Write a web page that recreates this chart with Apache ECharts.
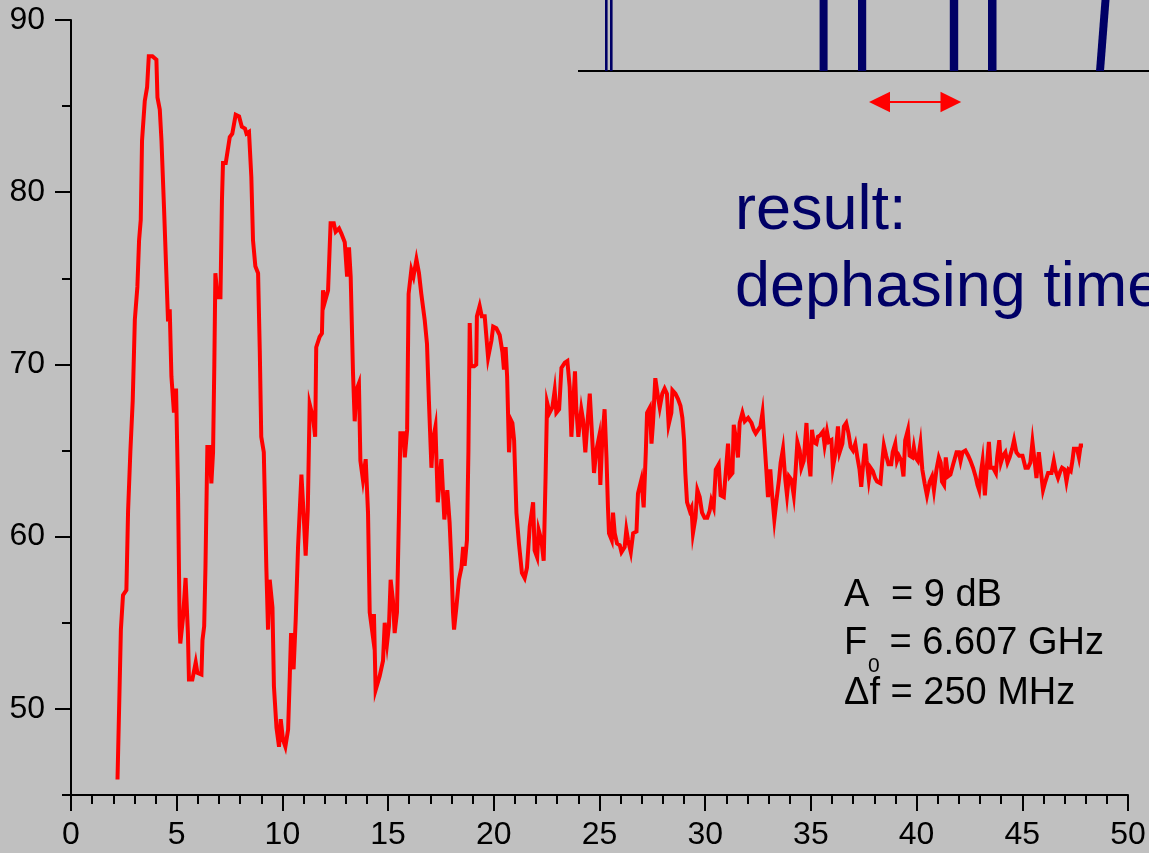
<!DOCTYPE html>
<html>
<head>
<meta charset="utf-8">
<script src="https://cdn.jsdelivr.net/npm/echarts@6/dist/echarts.min.js"></script>
<style>
html,body{margin:0;padding:0;background:#c0c0c0;}
#chart{width:1149px;height:853px;}
</style>
</head>
<body>
<div id="chart"></div>
<script>
// ---- data ----
const xs = [2.20,2.36,2.46,2.62,2.70,2.81,2.92,3.02,3.14,3.22,3.30,3.36,3.49,3.60,3.68,3.85,4.04,4.09,4.20,4.28,4.40,4.51,4.59,4.67,4.75,4.87,4.97,5.06,5.14,5.17,5.30,5.42,5.53,5.58,5.74,5.90,5.98,6.17,6.22,6.30,6.36,6.45,6.55,6.64,6.72,6.78,6.83,6.89,6.93,7.07,7.14,7.19,7.32,7.51,7.63,7.79,7.95,8.08,8.23,8.30,8.42,8.53,8.61,8.72,8.85,8.93,9.00,9.12,9.24,9.32,9.40,9.53,9.60,9.72,9.84,9.92,10.03,10.14,10.27,10.35,10.41,10.53,10.63,10.74,10.90,11.00,11.10,11.20,11.29,11.45,11.55,11.60,11.76,11.87,11.92,12.00,12.16,12.28,12.43,12.52,12.68,12.79,12.95,13.06,13.15,13.23,13.34,13.42,13.50,13.62,13.69,13.81,13.94,14.05,14.13,14.26,14.33,14.41,14.60,14.76,14.84,14.95,15.04,15.12,15.23,15.31,15.42,15.52,15.58,15.72,15.79,15.90,15.97,16.10,16.20,16.34,16.46,16.57,16.73,16.84,16.93,17.05,17.12,17.24,17.35,17.52,17.66,17.80,17.91,17.99,18.07,18.12,18.23,18.35,18.47,18.55,18.62,18.73,18.80,18.86,18.92,19.07,19.17,19.20,19.33,19.43,19.57,19.73,19.89,19.97,20.12,20.28,20.41,20.48,20.56,20.63,20.72,20.80,20.88,20.96,21.07,21.19,21.33,21.46,21.57,21.70,21.86,21.93,22.05,22.12,22.25,22.36,22.45,22.52,22.64,22.77,22.88,22.96,23.09,23.20,23.36,23.48,23.59,23.67,23.76,23.84,23.90,24.00,24.14,24.22,24.33,24.43,24.54,24.66,24.74,24.85,24.98,25.04,25.13,25.24,25.33,25.40,25.45,25.58,25.64,25.72,25.83,25.96,26.04,26.19,26.27,26.35,26.48,26.59,26.75,26.82,26.98,27.09,27.19,27.25,27.38,27.46,27.53,27.64,27.77,27.85,27.97,28.08,28.19,28.27,28.40,28.45,28.59,28.71,28.83,28.92,29.00,29.06,29.14,29.27,29.35,29.42,29.54,29.63,29.74,29.85,29.97,30.10,30.21,30.29,30.40,30.50,30.64,30.73,30.88,30.97,31.08,31.16,31.29,31.35,31.44,31.55,31.63,31.76,31.87,32.03,32.19,32.30,32.39,32.50,32.61,32.71,32.82,32.90,32.97,33.08,33.16,33.27,33.37,33.49,33.57,33.68,33.79,33.87,33.96,34.08,34.19,34.27,34.36,34.47,34.55,34.66,34.79,34.86,34.98,35.05,35.13,35.26,35.33,35.45,35.57,35.65,35.76,35.85,35.97,36.04,36.17,36.28,36.36,36.49,36.56,36.67,36.78,36.88,36.99,37.10,37.20,37.30,37.38,37.45,37.57,37.64,37.74,37.82,37.93,38.04,38.13,38.29,38.37,38.45,38.56,38.67,38.80,38.87,38.99,39.07,39.16,39.28,39.38,39.46,39.59,39.67,39.80,39.87,39.95,40.06,40.18,40.27,40.38,40.49,40.62,40.73,40.82,40.94,41.05,41.14,41.20,41.30,41.38,41.49,41.60,41.73,41.81,41.89,42.00,42.08,42.17,42.31,42.44,42.55,42.67,42.79,42.88,42.96,43.04,43.12,43.23,43.31,43.42,43.50,43.62,43.75,43.81,43.91,43.99,44.09,44.20,44.30,44.40,44.52,44.61,44.72,44.85,45.01,45.15,45.27,45.38,45.48,45.59,45.67,45.78,45.87,45.98,46.09,46.22,46.38,46.49,46.58,46.69,46.80,46.88,47.00,47.09,47.19,47.29,47.37,47.44,47.59,47.68,47.76,47.87];
const ys = [45.9,54.6,56.6,56.9,61.5,65.0,67.9,72.6,74.5,77.2,78.4,83.0,85.3,86.1,87.9,87.9,87.7,85.5,84.8,83.0,79.1,75.3,72.5,73.2,69.3,67.2,68.6,62.9,54.8,53.8,55.3,57.6,54.4,51.7,51.7,52.7,52.1,52.0,54.0,54.8,58.2,65.2,65.2,63.1,64.9,70.0,75.3,75.3,73.9,73.9,79.5,81.7,81.7,83.2,83.4,84.5,84.4,83.8,83.7,83.4,83.5,80.9,77.2,75.7,75.3,70.8,65.8,64.9,58.2,54.6,57.5,55.9,51.3,48.9,47.8,49.4,48.2,47.8,48.8,51.9,54.4,52.3,55.2,59.4,63.6,61.4,58.9,61.5,67.7,66.9,65.8,71.0,71.6,71.8,74.3,73.6,74.3,78.2,78.2,77.7,77.9,77.6,77.1,75.1,76.8,75.1,69.5,66.7,68.5,68.9,64.4,63.3,64.5,61.4,55.6,54.4,55.5,51.1,51.9,52.8,55.0,53.8,54.8,57.5,56.3,54.4,55.6,61.7,66.0,66.0,64.6,66.2,74.1,75.5,75.1,76.1,75.3,74.1,72.6,71.2,67.9,64.0,65.6,66.4,62.0,64.5,61.0,62.7,60.8,58.6,55.6,54.6,55.9,57.5,58.2,59.4,58.3,59.8,65.0,72.4,69.9,69.9,70.0,72.8,73.4,72.8,72.8,70.4,71.4,72.2,72.1,71.7,70.7,69.7,71.0,69.3,64.9,66.8,66.6,65.6,61.4,59.6,57.9,57.6,58.2,60.6,62.0,59.2,58.8,60.4,59.8,58.6,63.5,67.8,67.2,67.5,68.5,67.2,67.4,69.8,70.1,70.2,68.7,65.8,65.8,69.6,67.5,65.8,67.4,66.8,64.9,66.6,68.3,65.6,63.7,65.0,65.8,63.0,65.6,67.4,64.6,61.7,60.2,59.8,61.4,60.2,59.6,59.5,59.1,59.4,60.4,59.8,59.1,60.2,60.3,62.5,63.3,61.7,64.9,67.2,67.5,65.4,66.6,69.2,68.1,67.5,68.3,68.6,68.3,66.5,67.2,68.5,68.3,68.0,67.6,66.9,65.6,63.7,62.0,61.5,61.7,60.2,61.1,62.7,62.3,61.4,61.1,61.1,61.5,62.1,61.7,63.9,64.2,62.4,62.3,63.7,65.4,63.5,63.7,66.5,65.8,64.6,66.6,67.2,66.7,66.9,66.6,66.2,66.0,66.2,66.4,67.2,65.2,63.7,62.3,63.9,62.5,61.0,62.1,63.3,64.3,65.1,63.3,62.4,63.5,63.3,62.4,63.7,65.5,65.0,64.0,64.4,66.6,64.9,63.5,66.2,65.5,65.4,65.8,65.9,66.1,65.3,66.1,65.5,65.6,64.0,64.9,66.4,64.9,65.4,66.4,66.6,66.0,65.2,65.0,65.4,64.6,63.9,62.9,63.9,65.4,64.4,63.3,64.0,63.8,63.4,63.2,63.1,64.3,65.3,64.7,64.2,64.2,64.9,65.4,64.4,64.7,64.4,63.5,65.6,66.2,64.7,64.6,65.2,64.6,64.4,65.4,63.9,63.1,62.4,63.2,63.5,62.7,63.9,64.6,64.3,63.2,63.0,64.6,63.5,63.6,64.2,64.3,64.9,64.9,64.4,64.9,65.0,64.7,64.4,64.0,63.5,63.0,62.7,63.7,64.4,62.4,63.9,65.5,64.0,64.0,63.7,64.6,65.6,64.3,64.7,64.9,64.3,64.6,65.1,65.6,64.9,64.7,64.7,64.0,64.0,64.3,65.5,64.3,63.4,64.9,63.9,62.7,63.2,63.7,63.7,64.4,63.8,63.4,63.8,64.0,63.9,63.2,63.9,63.8,64.4,65.1,65.1,64.6,65.3,65.3];
const yMajorTicks = [50, 60, 70, 80, 90];
const yMinorTicks = [45, 55, 65, 75, 85];
const xRange = [0, 50];
const yRange = [45, 90];
const titleLines = ['result:', 'dephasing time'];
const paramA = ['A', '= 9 dB'];
const paramF = ['F', '0', ' = 6.607 GHz'];
const paramD = 'Δf = 250 MHz';

const seriesData = xs.map((x, i) => [x, ys[i]]);

const NAVY = '#000066';
const FONT = '"Liberation Sans", Arial, sans-serif';

const chart = echarts.init(document.getElementById('chart'), null, {renderer: 'canvas'});

function txt(x, y, text, size, color) {
  return {type: 'text', x: x, y: y, z: 100,
    style: {text: text, fontSize: size, fontFamily: FONT, fill: color, align: 'left', verticalAlign: 'top'}};
}

const option = {
  backgroundColor: '#c0c0c0',
  animation: false,
  grid: {left: 71, right: 21, top: 20, bottom: 58, outerBoundsMode: 'none', containLabel: false},
  xAxis: {
    type: 'value', min: xRange[0], max: xRange[1], interval: 5,
    axisLine: {onZero: false, lineStyle: {color: '#000', width: 2}},
    axisTick: {show: true, length: 16, lineStyle: {color: '#000', width: 2}},
    minorTick: {show: true, splitNumber: 5, length: 9, lineStyle: {color: '#000', width: 2}},
    splitLine: {show: false}, minorSplitLine: {show: false},
    axisLabel: {color: '#000', fontSize: 32, fontFamily: FONT, margin: 24}
  },
  yAxis: [{
    type: 'value', min: yRange[0], max: yRange[1],
    axisLine: {show: true, onZero: false, lineStyle: {color: '#000', width: 2}},
    axisTick: {show: true, length: 16, customValues: yMajorTicks, lineStyle: {color: '#000', width: 2}},
    axisLabel: {color: '#000', fontSize: 32, fontFamily: FONT, margin: 26, customValues: yMajorTicks},
    splitLine: {show: false}
  }, {
    type: 'value', min: yRange[0], max: yRange[1], position: 'left',
    axisLine: {show: false},
    axisTick: {show: true, length: 9, customValues: yMinorTicks, lineStyle: {color: '#000', width: 2}},
    axisLabel: {show: false},
    splitLine: {show: false}
  }],
  series: [{
    type: 'line', xAxisIndex: 0, yAxisIndex: 0,
    data: seriesData, showSymbol: false, symbol: 'none', smooth: false,
    lineStyle: {color: '#ff0000', width: 4, join: 'miter'},
    z: 5
  }],
  graphic: [
    // pulse sketch at the top right
    {type: 'line', z: 50, shape: {x1: 578, y1: 71, x2: 1149, y2: 71}, style: {stroke: '#000', lineWidth: 2}},
    {type: 'rect', z: 50, shape: {x: 605, y: 0, width: 2.6, height: 71}, style: {fill: NAVY}},
    {type: 'rect', z: 50, shape: {x: 610, y: 0, width: 2.6, height: 71}, style: {fill: NAVY}},
    {type: 'rect', z: 50, shape: {x: 819.6, y: 0, width: 8, height: 71}, style: {fill: NAVY}},
    {type: 'rect', z: 50, shape: {x: 858, y: 0, width: 8.2, height: 71}, style: {fill: NAVY}},
    {type: 'rect', z: 50, shape: {x: 949.8, y: 0, width: 8.4, height: 71}, style: {fill: NAVY}},
    {type: 'rect', z: 50, shape: {x: 988, y: 0, width: 8.5, height: 71}, style: {fill: NAVY}},
    {type: 'polygon', z: 50, shape: {points: [[1096, 71], [1104, 71], [1109.5, 0], [1101.5, 0]]}, style: {fill: NAVY}},
    // red double arrow
    {type: 'line', z: 50, shape: {x1: 885, y1: 102, x2: 946, y2: 102}, style: {stroke: '#ff0000', lineWidth: 2}},
    {type: 'polygon', z: 50, shape: {points: [[869, 102], [890, 91.7], [890, 112.3]]}, style: {fill: '#ff0000'}},
    {type: 'polygon', z: 50, shape: {points: [[961.2, 102], [940.5, 91.7], [940.5, 112.3]]}, style: {fill: '#ff0000'}},
    // big navy text
    txt(735, 180, titleLines[0], 63, NAVY),
    txt(735, 257, titleLines[1], 63, NAVY),
    // parameters
    txt(844, 577, paramA[0], 38, '#000'),
    txt(891, 577, paramA[1], 38, '#000'),
    txt(844, 625, paramF[0], 38, '#000'),
    txt(868, 656, paramF[1], 21, '#000'),
    txt(879, 625, paramF[2], 38, '#000'),
    txt(844, 675, paramD, 38, '#000')
  ]
};
chart.setOption(option);
</script>
</body>
</html>
